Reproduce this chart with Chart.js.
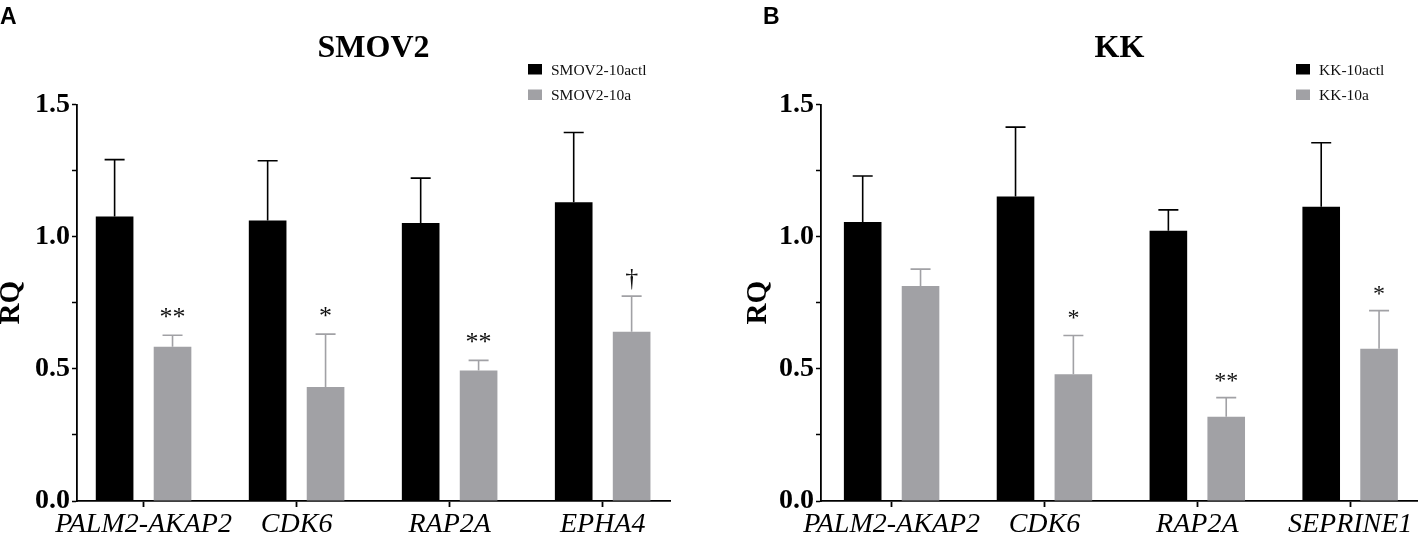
<!DOCTYPE html>
<html>
<head>
<meta charset="utf-8">
<title>SMOV2 / KK RQ</title>
<script src="https://cdn.jsdelivr.net/npm/chart.js@4.4.1/dist/chart.umd.min.js"></script>
<style>
  body { margin: 0; background: #fff; }
  #wrap { position: relative; width: 1418px; height: 537px; }
  .panel { position: absolute; top: 0; width: 709px; height: 537px; }
</style>
</head>
<body>
<div id="wrap">
  <div class="panel" style="left:0"><canvas id="chartA" width="709" height="537"></canvas></div>
  <div class="panel" style="left:709px"><canvas id="chartB" width="709" height="537"></canvas></div>
</div>
<script>
// values
const genesA = ['PALM2-AKAP2', 'CDK6', 'RAP2A', 'EPHA4'];
const genesB = ['PALM2-AKAP2', 'CDK6', 'RAP2A', 'SEPRINE1'];

const smovCtl = [1.076, 1.061, 1.051, 1.130];
const smovCtlErr = [0.215, 0.226, 0.170, 0.264];
const smovTreat = [0.583, 0.431, 0.494, 0.640];
const smovTreatErr = [0.044, 0.200, 0.038, 0.135];
const smovMarks = ['**', '*', '**', '\u2020'];

const kkCtl = [1.055, 1.152, 1.022, 1.113];
const kkCtlErr = [0.174, 0.262, 0.079, 0.242];
const kkTreat = [0.813, 0.479, 0.319, 0.576];
const kkTreatErr = [0.064, 0.147, 0.072, 0.144];
const kkMarks = ['', '*', '**', '*'];

const yTickValues = [0, 0.25, 0.5, 0.75, 1.0, 1.25, 1.5];
const yTickLabels = ['0.0', '', '0.5', '', '1.0', '', '1.5'];

const BLACK = '#000000';
const GREY = '#a1a1a5';
const SERIF = "'Liberation Serif', 'Times New Roman', serif";

// error bars (upper only) + significance marks
const errorBars = {
  id: 'errorBars',
  afterDatasetsDraw(chart) {
    const { ctx } = chart;
    const y = chart.scales.y;
    chart.data.datasets.forEach((ds, di) => {
      const meta = chart.getDatasetMeta(di);
      meta.data.forEach((bar, i) => {
        const top = y.getPixelForValue(ds.data[i].y + ds.errors[i]);
        ctx.save();
        ctx.strokeStyle = ds.backgroundColor;
        ctx.lineWidth = 1.6;
        ctx.beginPath();
        ctx.moveTo(bar.x, bar.y);
        ctx.lineTo(bar.x, top);
        ctx.moveTo(bar.x - 10, top);
        ctx.lineTo(bar.x + 10, top);
        ctx.stroke();
        if (ds.marks && ds.marks[i]) {
          ctx.fillStyle = '#111';
          ctx.font = ds.markFont;
          ctx.textAlign = 'center';
          ctx.textBaseline = 'alphabetic';
          ctx.fillText(ds.marks[i], bar.x, top - 10);
        }
        ctx.restore();
      });
    });
  }
};

// legend box + panel letter
const decorations = {
  id: 'decorations',
  afterDraw(chart, args, opts) {
    const { ctx } = chart;
    ctx.save();
    chart.data.datasets.forEach((ds, i) => {
      const yy = 64 + i * 25.5;
      ctx.fillStyle = ds.backgroundColor;
      ctx.fillRect(opts.legendX, yy, 14, 10.5);
      ctx.fillStyle = '#111';
      ctx.font = '15.5px ' + SERIF;
      ctx.textBaseline = 'alphabetic';
      ctx.textAlign = 'left';
      ctx.fillText(ds.label, opts.legendX + 23, yy + 10.5);
    });
    ctx.fillStyle = '#000';
    ctx.font = "bold 23px 'Liberation Sans', Arial, sans-serif";
    ctx.fillText(opts.letter, opts.letterX, 24);
    ctx.restore();
  }
};

function makeChart(id, cfg) {
  const toPoints = (vals) => vals.map((v, i) => ({ x: i, y: v }));
  return new Chart(document.getElementById(id), {
    type: 'bar',
    data: {
      datasets: [
        {
          label: cfg.labels[0],
          data: toPoints(cfg.ctl),
          errors: cfg.ctlErr,
          backgroundColor: BLACK,
          categoryPercentage: 0.757,
          barPercentage: 0.65
        },
        {
          label: cfg.labels[1],
          data: toPoints(cfg.treat),
          errors: cfg.treatErr,
          marks: cfg.marks,
          markFont: cfg.markFont,
          backgroundColor: GREY,
          categoryPercentage: 0.757,
          barPercentage: 0.65
        }
      ]
    },
    options: {
      responsive: false,
      animation: false,
      layout: { padding: { left: cfg.padLeft, right: cfg.padRight, top: 0, bottom: 0 } },
      plugins: {
        legend: { display: false },
        tooltip: { enabled: false },
        title: {
          display: true,
          text: cfg.title,
          fullSize: false,
          color: '#000',
          font: { family: SERIF, size: 32, weight: 'bold', lineHeight: 1.2 },
          padding: { top: 30, bottom: 36 }
        },
        decorations: { legendX: cfg.legendX, letter: cfg.letter, letterX: cfg.letterX }
      },
      scales: {
        x: {
          type: 'linear',
          offset: false,
          min: cfg.xMin,
          max: cfg.xMax,
          afterBuildTicks: (scale) => { scale.ticks = cfg.genes.map((g, i) => ({ value: i })); },
          afterFit: (scale) => { scale.height = 36; scale.paddingLeft = 0; scale.paddingRight = 0; },
          ticks: {
            autoSkip: false,
            maxRotation: 0,
            padding: 6,
            color: '#000',
            font: { family: SERIF, size: 28, style: 'italic', lineHeight: 0.8 },
            callback: (v) => cfg.genes[v]
          },
          grid: { offset: false, drawOnChartArea: false, tickLength: 6, tickColor: '#000', tickWidth: 1.8 },
          border: { color: '#000', width: 1.8 }
        },
        y: {
          min: 0,
          max: 1.5,
          afterBuildTicks: (scale) => { scale.ticks = yTickValues.map((v) => ({ value: v })); },
          afterFit: (scale) => { scale.width = cfg.yWidth; },
          ticks: {
            autoSkip: false,
            padding: 2,
            color: '#000',
            font: { family: SERIF, size: 28, weight: 'bold' },
            callback: (v, i) => yTickLabels[i]
          },
          title: {
            display: true,
            text: 'RQ',
            color: '#000',
            font: { family: SERIF, size: 29, weight: 'bold', lineHeight: 0.8 },
            padding: 0
          },
          grid: { drawOnChartArea: false, tickLength: 5, tickColor: '#000', tickWidth: 1.5 },
          border: { color: '#000', width: 1.8 }
        }
      }
    },
    plugins: [errorBars, decorations]
  });
}

makeChart('chartA', {
  title: 'SMOV2',
  labels: ['SMOV2-10actl', 'SMOV2-10a'],
  genes: genesA,
  ctl: smovCtl, ctlErr: smovCtlErr,
  treat: smovTreat, treatErr: smovTreatErr,
  marks: smovMarks,
  markFont: '26px ' + SERIF,
  xMin: -0.435, xMax: 3.44,
  padLeft: 0, padRight: 39, yWidth: 77,
  legendX: 528, letter: 'A', letterX: 0
});

makeChart('chartB', {
  title: 'KK',
  labels: ['KK-10actl', 'KK-10a'],
  genes: genesB,
  ctl: kkCtl, ctlErr: kkCtlErr,
  treat: kkTreat, treatErr: kkTreatErr,
  marks: kkMarks,
  markFont: '24px ' + SERIF,
  xMin: -0.462, xMax: 3.444,
  padLeft: 38, padRight: 0, yWidth: 74,
  legendX: 587, letter: 'B', letterX: 54
});
</script>
</body>
</html>
